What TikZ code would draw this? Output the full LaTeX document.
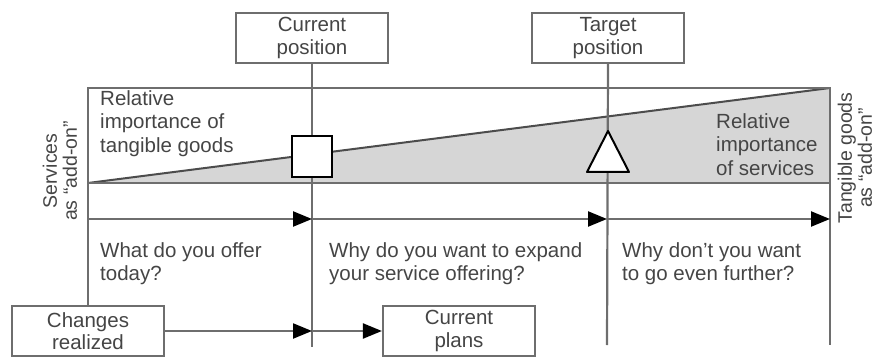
\documentclass[tikz,border=0pt]{standalone}
\usepackage{fontspec}
\setmainfont{Liberation Sans}
\usetikzlibrary{arrows.meta}
\definecolor{linegray}{HTML}{6E6E6E}
\definecolor{txtgray}{HTML}{454545}
\definecolor{shadegray}{HTML}{D6D6D6}
\begin{document}
\begin{tikzpicture}[x=1pt,y=-1pt,
  conn/.style={draw=linegray,line width=2.2pt},
  flow/.style={conn,-{Triangle[length=19pt,width=15pt,color=black]}},
  box/.style={draw=linegray,line width=2.2pt,fill=white,minimum width=152pt,
    minimum height=50pt,inner sep=0pt,align=center,
    font=\fontsize{20.5}{22.5}\selectfont,text=txtgray},
  lbl/.style={align=left,anchor=north west,inner sep=0pt,
    font=\fontsize{20.5}{23.5}\selectfont,text=txtgray},
  side/.style={rotate=90,align=center,inner sep=0pt,
    font=\fontsize{19.5}{20}\selectfont,text=txtgray},
  marker/.style={draw=black,line width=2pt,fill=white}]
\useasboundingbox (0,0) rectangle (875,358);

% corners of the importance band
\coordinate (bl) at (88,183);
\coordinate (tl) at (88,88);
\coordinate (tr) at (830,88);
\coordinate (br) at (830,183);

% shaded wedge: share of services
\fill[shadegray] (bl) -- (tr) -- (br) -- cycle;
\draw[line width=2pt,black!70] (bl) -- (tr);
\draw[conn] (tl) rectangle (br);

% position boxes
\node[box] (cur) at (312,38) {Current\\position};
\node[box] (tgt) at (608,38) {Target\\position};
\node[box] (chg) at (88,331) {Changes\\realized};
\node[box] (pln) at (459,331) {Current\\plans};

% vertical guides
\coordinate (curlow) at (312,347);
\coordinate (tgtlow) at (607,345);
\coordinate (rlow) at (830,345);
\draw[conn] (cur.south) -- (curlow);
\draw[conn] (tgt.south) -- (tgtlow);
\draw[conn] (br) -- (rlow);
\draw[conn] (bl) -- (chg.north);

% progression arrows
\coordinate (a0) at (88,219);
\coordinate (a1) at (312,219);
\coordinate (a2) at (607,219);
\coordinate (a3) at (830,219);
\draw[flow] (a0) -- (a1);
\draw[flow] (a1) -- (a2);
\draw[flow] (a2) -- (a3);

\coordinate (b1) at (312,331);
\draw[flow] (chg.east) -- (b1);
\draw[flow] (b1) -- (pln.west);

% markers on the band
\node[marker,minimum width=40pt,minimum height=41pt,inner sep=0pt] (sq) at (312,157) {};
\coordinate (t1) at (608,131);
\coordinate (t2) at (587,172);
\coordinate (t3) at (629,172);
\draw[marker,line join=round] (t1) -- (t2) -- (t3) -- cycle;

% labels
\node[lbl] (goods) at (100,90) {Relative\\importance of\\tangible goods};
\node[lbl] (serv) at (716,113) {Relative\\importance\\of services};
\node[lbl] (q1) at (100,242) {What do you offer\\today?};
\node[lbl] (q2) at (329,242) {Why do you want to expand\\your service offering?};
\node[lbl] (q3) at (622,242) {Why don't you want\\to go even further?};

\node[side] (sl) at (60,171) {Services\\as “add-on”};
\node[side] (sr) at (855,158) {Tangible goods\\as “add-on”};
\end{tikzpicture}
\end{document}
